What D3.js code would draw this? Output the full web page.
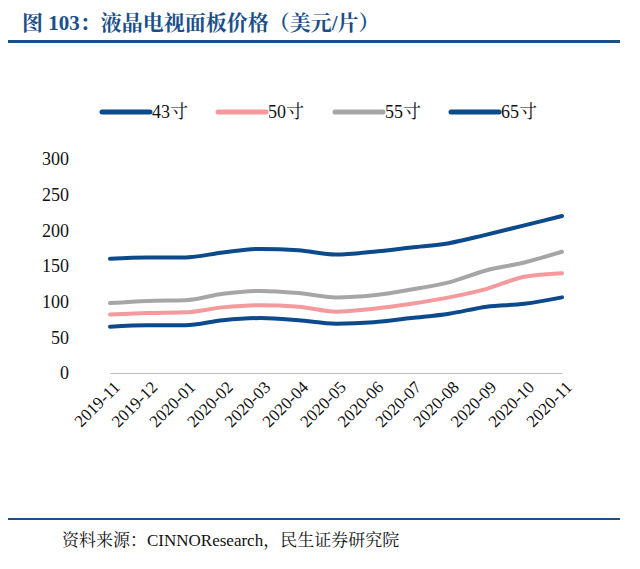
<!DOCTYPE html><html><head><meta charset="utf-8"><script src="https://d3js.org/d3.v7.min.js"></script>
<style>body{margin:0;background:#fff}svg text{font-family:"Liberation Serif","Noto Serif CJK SC","Noto Sans CJK SC",serif}</style></head><body><svg id="c" width="640" height="569"></svg>
<script>
const months=["2019-11","2019-12","2020-01","2020-02","2020-03","2020-04","2020-05","2020-06","2020-07","2020-08","2020-09","2020-10","2020-11"];
const s43=[65,67,67,74,77,74,69,71,77,83,93,97,106];
const s50=[82,84,85,92,95,93,86,90,97,106,118,135,140];
const s55=[98,101,102,111,115,112,106,109,117,127,144,155,170];
const s65=[160,162,162,169,174,172,166,170,176,182,194,207,220];
const names=["43寸","50寸","55寸","65寸"];
const colors=["#0c4a8c","#f4999c","#a6a6a6","#0c4a8c"];
const series=[s43,s50,s55,s65];
const yTicks=[0,50,100,150,200,250,300];
const svg=d3.select("#c");
svg.append("text").attr("x",22).attr("y",30).attr("fill","#1a4f8a").attr("font-size",21).attr("font-weight","bold").text("图 103：液晶电视面板价格（美元/片）");
svg.append("rect").attr("x",8).attr("y",40).attr("width",612).attr("height",3).attr("fill","#1a4f8a");
svg.append("rect").attr("x",8).attr("y",518).attr("width",612).attr("height",2).attr("fill","#1a4f8a");
svg.append("text").attr("x",62).attr("y",546).attr("font-size",17).attr("fill","#111").text("资料来源：CINNOResearch，民生证券研究院");
const x=d3.scalePoint().domain(months).range([110,562]);
const y=d3.scaleLinear().domain([0,300]).range([373,159]);
const ya=svg.append("g").attr("transform","translate(91,0)").call(d3.axisLeft(y).tickValues(yTicks).tickSize(0).tickPadding(22));
ya.select(".domain").remove();ya.selectAll("text").attr("font-size",18).attr("fill","#111");
const xa=svg.append("g").attr("transform","translate(0,373)").call(d3.axisBottom(x).tickSize(0).tickPadding(8));
xa.select(".domain").attr("stroke","#bfbfbf");
xa.selectAll("text").attr("font-size",17).attr("fill","#111").attr("text-anchor","end").attr("transform","rotate(-45)").attr("dx","-0.2em").attr("dy","0.6em");
const line=d3.line().x((d,i)=>x(months[i])).y(d=>y(d)).curve(d3.curveMonotoneX);
series.forEach((s,k)=>svg.append("path").attr("d",line(s)).attr("fill","none").attr("stroke",colors[k]).attr("stroke-width",4).attr("stroke-linecap","round"));
const lx=[102,218,335,451];
names.forEach((n,k)=>{svg.append("line").attr("x1",lx[k]).attr("x2",lx[k]+48).attr("y1",112).attr("y2",112).attr("stroke",colors[k]).attr("stroke-width",5).attr("stroke-linecap","round");
svg.append("text").attr("x",lx[k]+50).attr("y",118).attr("font-size",18).attr("fill","#111").text(n);});
</script></body></html>
